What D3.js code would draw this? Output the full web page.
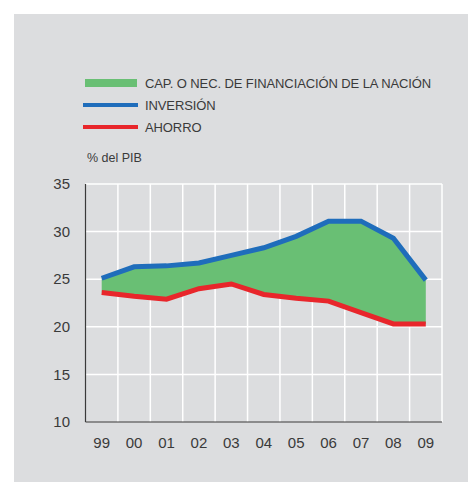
<!DOCTYPE html>
<meta charset="utf-8">
<style>
body { margin: 0; background: #fff; }
text { font-family: "Liberation Sans", Arial, sans-serif; fill: #3a3a3a; }
.grid line { stroke: #fff; stroke-width: 1.5px; }
</style>
<body>
<svg width="468" height="483"></svg>
<script src="https://d3js.org/d3.v7.min.js"></script>
<script>

// data (% del PIB)
var years = ["99", "00", "01", "02", "03", "04", "05", "06", "07", "08", "09"];
var inversion = [25.1, 26.3, 26.4, 26.7, 27.5, 28.3, 29.5, 31.1, 31.1, 29.3, 24.9];
var ahorro = [23.6, 23.2, 22.9, 24.0, 24.5, 23.4, 23.0, 22.7, 21.5, 20.3, 20.3];
var yTicks = [10, 15, 20, 25, 30, 35];

var svg = d3.select("svg");

// gray panel
svg.append("rect")
    .attr("x", 14).attr("y", 14)
    .attr("width", 454).attr("height", 468)
    .attr("fill", "#dcdddf");

var margin = {left: 85.5, right: 442, top: 184, bottom: 422};

var x = d3.scaleBand().domain(years).range([margin.left, margin.right]);
var y = d3.scaleLinear().domain([10, 35]).range([margin.bottom, margin.top]);

var grid = svg.append("g").attr("class", "grid");

// horizontal grid
grid.selectAll(".h")
    .data(yTicks.slice(1))
    .enter().append("line")
    .attr("x1", margin.left).attr("x2", margin.right)
    .attr("y1", function(d) { return y(d); })
    .attr("y2", function(d) { return y(d); });

// vertical grid at band edges
grid.selectAll(".v")
    .data(years)
    .enter().append("line")
    .attr("x1", function(d) { return x(d) + x.bandwidth(); })
    .attr("x2", function(d) { return x(d) + x.bandwidth(); })
    .attr("y1", margin.top).attr("y2", margin.bottom);

var data = years.map(function(d, i) { return {year: d, inv: inversion[i], aho: ahorro[i]}; });
var cx = function(d) { return x(d.year) + x.bandwidth() / 2; };

// financing gap area
svg.append("path")
    .datum(data)
    .attr("fill", "#69bf74")
    .attr("d", d3.area().x(cx)
        .y0(function(d) { return y(d.aho); })
        .y1(function(d) { return y(d.inv); }));

svg.append("path")
    .datum(data)
    .attr("fill", "none")
    .attr("stroke", "#e8262b")
    .attr("stroke-width", 5)
    .attr("d", d3.line().x(cx).y(function(d) { return y(d.aho); }));

svg.append("path")
    .datum(data)
    .attr("fill", "none")
    .attr("stroke", "#1f6dbb")
    .attr("stroke-width", 5)
    .attr("d", d3.line().x(cx).y(function(d) { return y(d.inv); }));

// axes lines
svg.append("line")
    .attr("x1", margin.left).attr("x2", margin.left)
    .attr("y1", margin.top).attr("y2", margin.bottom)
    .attr("stroke", "#3a3a3a").attr("stroke-width", 1.2);
svg.append("line")
    .attr("x1", margin.left).attr("x2", margin.right)
    .attr("y1", margin.bottom).attr("y2", margin.bottom)
    .attr("stroke", "#3a3a3a").attr("stroke-width", 1.2);

// y labels
svg.selectAll(".ylab")
    .data(yTicks)
    .enter().append("text")
    .attr("x", 70)
    .attr("y", function(d) { return y(d); })
    .attr("dy", "0.35em")
    .attr("text-anchor", "end")
    .attr("font-size", 15)
    .text(function(d) { return d; });

// x labels
svg.selectAll(".xlab")
    .data(years)
    .enter().append("text")
    .attr("x", function(d) { return x(d) + x.bandwidth() / 2; })
    .attr("y", 443)
    .attr("dy", "0.35em")
    .attr("text-anchor", "middle")
    .attr("font-size", 15)
    .text(function(d) { return d; });

svg.append("text")
    .attr("x", 87).attr("y", 158)
    .attr("dy", "0.35em")
    .attr("font-size", 12.5)
    .text("% del PIB");

// legend
var legend = [
  {label: "CAP. O NEC. DE FINANCIACIÓN DE LA NACIÓN", color: "#69bf74", h: 8, y: 83},
  {label: "INVERSIÓN", color: "#1f6dbb", h: 4, y: 105},
  {label: "AHORRO", color: "#e8262b", h: 4, y: 127}
];
var lg = svg.selectAll(".lg").data(legend).enter().append("g");
lg.append("rect")
    .attr("x", function(d, i) { return i == 0 ? 85 : 83; })
    .attr("width", function(d, i) { return i == 0 ? 52 : 55; })
    .attr("y", function(d) { return d.y - d.h / 2; })
    .attr("height", function(d) { return d.h; })
    .attr("fill", function(d) { return d.color; });
lg.append("text")
    .attr("x", 145)
    .attr("y", function(d) { return d.y; })
    .attr("dy", "0.35em")
    .attr("font-size", 13)
    .attr("letter-spacing", -0.1)
    .text(function(d) { return d.label; });

</script>
</body>
